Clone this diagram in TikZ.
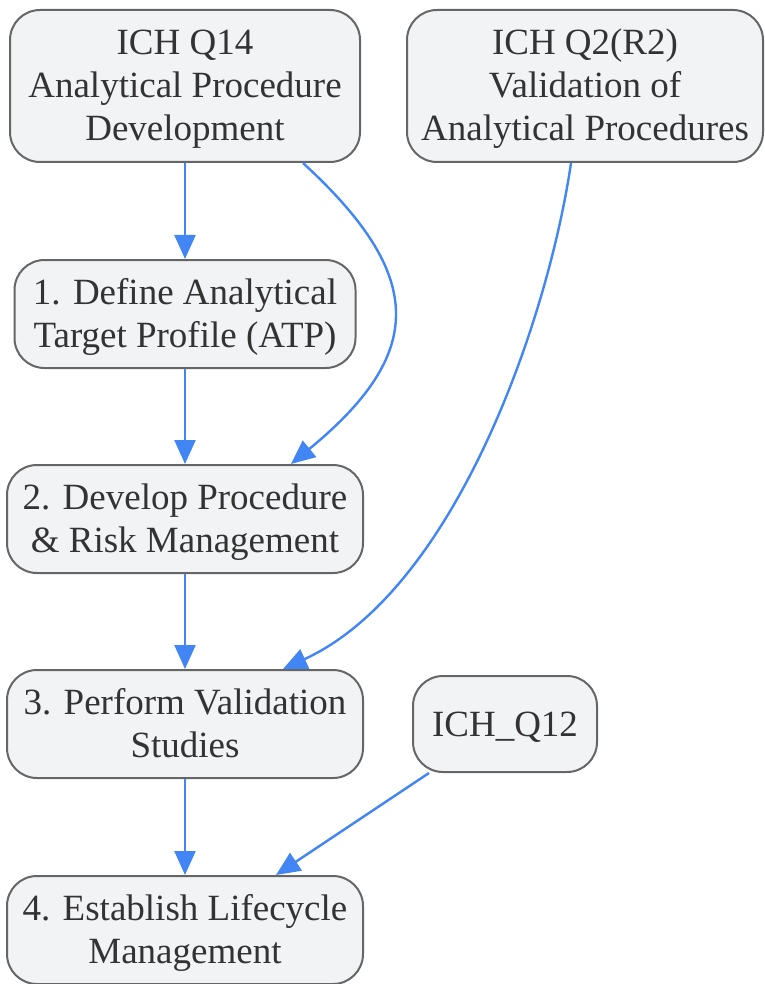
\documentclass[tikz,border=0pt]{standalone}
\usepackage{fontspec}
\setmainfont{Liberation Serif}
\usepackage{tikz}
\usetikzlibrary{arrows.meta}
\usetikzlibrary{calc}
\usetikzlibrary{positioning}
\definecolor{boxfill}{HTML}{F2F3F5}
\definecolor{boxline}{HTML}{666666}
\definecolor{flowblue}{HTML}{4285F4}
\definecolor{textgray}{HTML}{333333}
\newcommand{\linestrut}{\rule[-9pt]{0pt}{42pt}}

\begin{document}
\begin{tikzpicture}[x=1pt, y=-1pt,
    box/.style={draw=boxline, fill=boxfill, line width=2pt, rounded corners=30pt,
      align=center, text=textgray, inner sep=0pt,
      font=\fontsize{37}{43}\selectfont,
      execute at end node=\linestrut},
    flow/.style={draw=flowblue, line width=2.4pt,
      -{Triangle[length=24pt, width=21pt]}}]
    \useasboundingbox (0, 0) rectangle (764, 984);

    \node [box, minimum width=350pt, minimum height=152pt] (q14) at (185, 86) {\linestrut ICH Q14\\Analytical Procedure\\Development};
    \node [box, minimum width=356pt, minimum height=152pt] (q2) at (585, 86) {\linestrut ICH Q2(R2)\\Validation of\\Analytical Procedures};
    \node [box, minimum width=341pt, minimum height=108pt] (atp) at (185, 314) {\linestrut 1. Define Analytical\\Target Profile (ATP)};
    \node [box, minimum width=356pt, minimum height=108pt] (develop) at (185, 519) {\linestrut 2. Develop Procedure\\\& Risk Management};
    \node [box, minimum width=356pt, minimum height=108pt] (validate) at (185, 724) {\linestrut 3. Perform Validation\\Studies};
    \node [box, minimum width=184pt, minimum height=96pt] (q12) at (505, 724) {\linestrut ICH\_Q12};
    \node [box, minimum width=356pt, minimum height=108pt] (lifecycle) at (185, 930) {\linestrut 4. Establish Lifecycle\\Management};

    \draw [flow] (q14) -- (atp);
    \draw [flow] (atp) -- (develop);
    \draw [flow] (develop) -- (validate);
    \draw [flow] (validate) -- (lifecycle);
    \draw [flow] ($(q14.south east)+(-58,0)$) .. controls (426, 276) and (426, 353) .. ($(develop.north east)+(-73,0)$);
    \draw [flow] ($(q2.south)+(-14,0)$) .. controls (548, 320) and (455, 590) .. ($(validate.north east)+(-81,0)$);
    \draw [flow] ($(q12.south west)+(17,0)$) -- ($(lifecycle.north east)+(-88,0)$);
  \end{tikzpicture}
\end{document}
